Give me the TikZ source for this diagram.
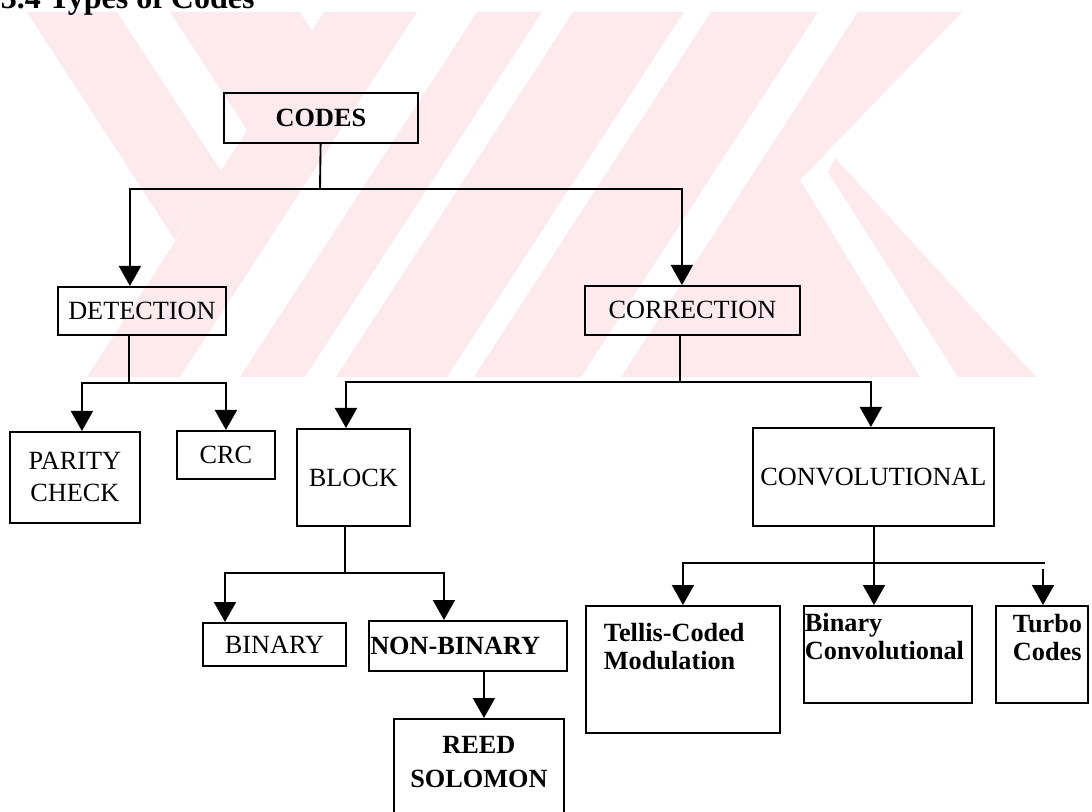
\documentclass[tikz,border=0pt]{standalone}
\usepackage{fontspec}
\setmainfont{Liberation Serif}
\usetikzlibrary{arrows.meta}

\definecolor{wmark}{RGB}{252,234,238}
\newcommand{\boxfont}{\fontsize{19.7pt}{24pt}\selectfont}
\newcommand{\lowfont}{\fontsize{19.7pt}{21pt}\selectfont\bfseries}

\begin{document}
\begin{tikzpicture}[x=0.75pt,y=-0.75pt,line width=1.4pt,
    >={Triangle[length=15pt,width=16.5pt]},
    box/.style={draw,inner sep=0pt,anchor=north west,font=\boxfont}]
    \useasboundingbox[fill=white] (0,0) rectangle (1092,812);

    % faint watermark behind the chart
    \fill[wmark] (27,12) -- (117,12) -- (221,171) -- (175,240) -- cycle;
    \fill[wmark] (170,12) -- (300,12) -- (358,102) -- (247,130) -- cycle;
    \fill[wmark] (324,12) -- (417,12) -- (180,377) -- (87,377) -- cycle;
    \fill[wmark] (477,12) -- (542,12) -- (305,377) -- (240,377) -- cycle;
    \fill[wmark] (573,12) -- (684,12) -- (447,377) -- (336,377) -- cycle;
    \fill[wmark] (711,12) -- (818,12) -- (581,377) -- (474,377) -- cycle;
    \fill[wmark] (858,12) -- (962,12) -- (800,180) -- (920,377) -- (621,377) -- cycle;
    \fill[wmark] (835,158) -- (1036,377) -- (958,377) -- (828,172) -- cycle;

    \node[anchor=base west,inner sep=0pt,font=\fontsize{24pt}{28pt}\selectfont\bfseries]
        (title) at (0,9) {3.4 Types of Codes};

    % boxes
    \node[box,minimum width=145.5pt,minimum height=37.5pt,font=\boxfont\bfseries] (codes) at (223,92) {CODES};
    \node[box,minimum width=126pt,minimum height=36pt] (detect) at (57,286) {DETECTION};
    \node[box,minimum width=161.25pt,minimum height=36.75pt] (correct) at (584,285) {CORRECTION};
    \node[box,minimum width=97.5pt,minimum height=68.25pt,align=center] (parity) at (9,431) {PARITY\\CHECK};
    \node[box,minimum width=73.5pt,minimum height=36pt] (crc) at (176,430) {CRC};
    \node[box,minimum width=84.75pt,minimum height=72.75pt] (block) at (296,428) {BLOCK};
    \node[box,minimum width=180.75pt,minimum height=73.5pt] (conv) at (752,427) {CONVOLUTIONAL};
    \node[box,minimum width=107.25pt,minimum height=32.25pt] (binary) at (202,622) {BINARY};
    \node[box,text width=146.5pt,inner xsep=1pt,minimum height=37.5pt,align=left,font=\boxfont\bfseries]
        (nonbin) at (368,620) {NON-BINARY};
    \node[box,font=\fontsize{19.7pt}{25.5pt}\selectfont\bfseries] (reed) at (393,718)
        {\parbox[c][87.75pt][t]{127.5pt}{\centering\rule{0pt}{26.25pt}REED\\SOLOMON}};
    \node[box,inner xsep=13.5pt,font=\lowfont] (tellis) at (585,605)
        {\parbox[c][95.25pt][t]{118.5pt}{\raggedright\rule{0pt}{27pt}Tellis-Coded\\Modulation}};
    \node[box,inner xsep=0.75pt,font=\lowfont] (binconv) at (803,605)
        {\parbox[c][72.75pt][t]{124.5pt}{\raggedright\rule{0pt}{19.5pt}Binary\\Convolutional}};
    \node[box,inner xsep=12.75pt,font=\lowfont] (turbo) at (995,605)
        {\parbox[c][72.75pt][t]{43.5pt}{\raggedright\rule{0pt}{20.25pt}Turbo\\Codes}};

    % connectors
    \coordinate (bus1) at (320,189);
    \draw (codes) -- (bus1);
    \draw[->] (bus1) -| ([xshift=-9pt]detect.north);
    \draw[->] (bus1) -| ([xshift=-7.9pt]correct.north);

    \coordinate (bus2) at (129,383);
    \draw (bus2 |- detect.south) -- (bus2);
    \draw[->] (bus2) -| ([xshift=5.25pt]parity.north);
    \draw[->] (bus2) -| (crc.north);

    \coordinate (bus3) at (680,382);
    \draw (bus3 |- correct.south) -- (bus3);
    \draw[->] (bus3) -| ([xshift=-5.6pt]block.north);
    \draw[->] (bus3) -| ([xshift=-1.9pt]conv.north);

    \coordinate (bus4) at (345,573);
    \draw (bus4 |- block.south) -- (bus4);
    \draw[->] (bus4) -| ([xshift=-37.1pt]binary.north);
    \draw[->] (bus4) -| ([xshift=-18pt]nonbin.north);
    \draw[->] ([xshift=12pt]nonbin.south) -- ([xshift=12pt]nonbin.south |- reed.north);

    \coordinate (bus5) at (874,563);
    \coordinate (busend) at (1045,563);
    \coordinate (turbotap) at (1043,569);
    \draw[->] (bus5 |- conv.south) -- (bus5 |- binconv.north);
    \draw[->] (busend) -| (tellis.north);
    \draw[->] (turbotap) -- (turbotap |- turbo.north);
\end{tikzpicture}
\end{document}
